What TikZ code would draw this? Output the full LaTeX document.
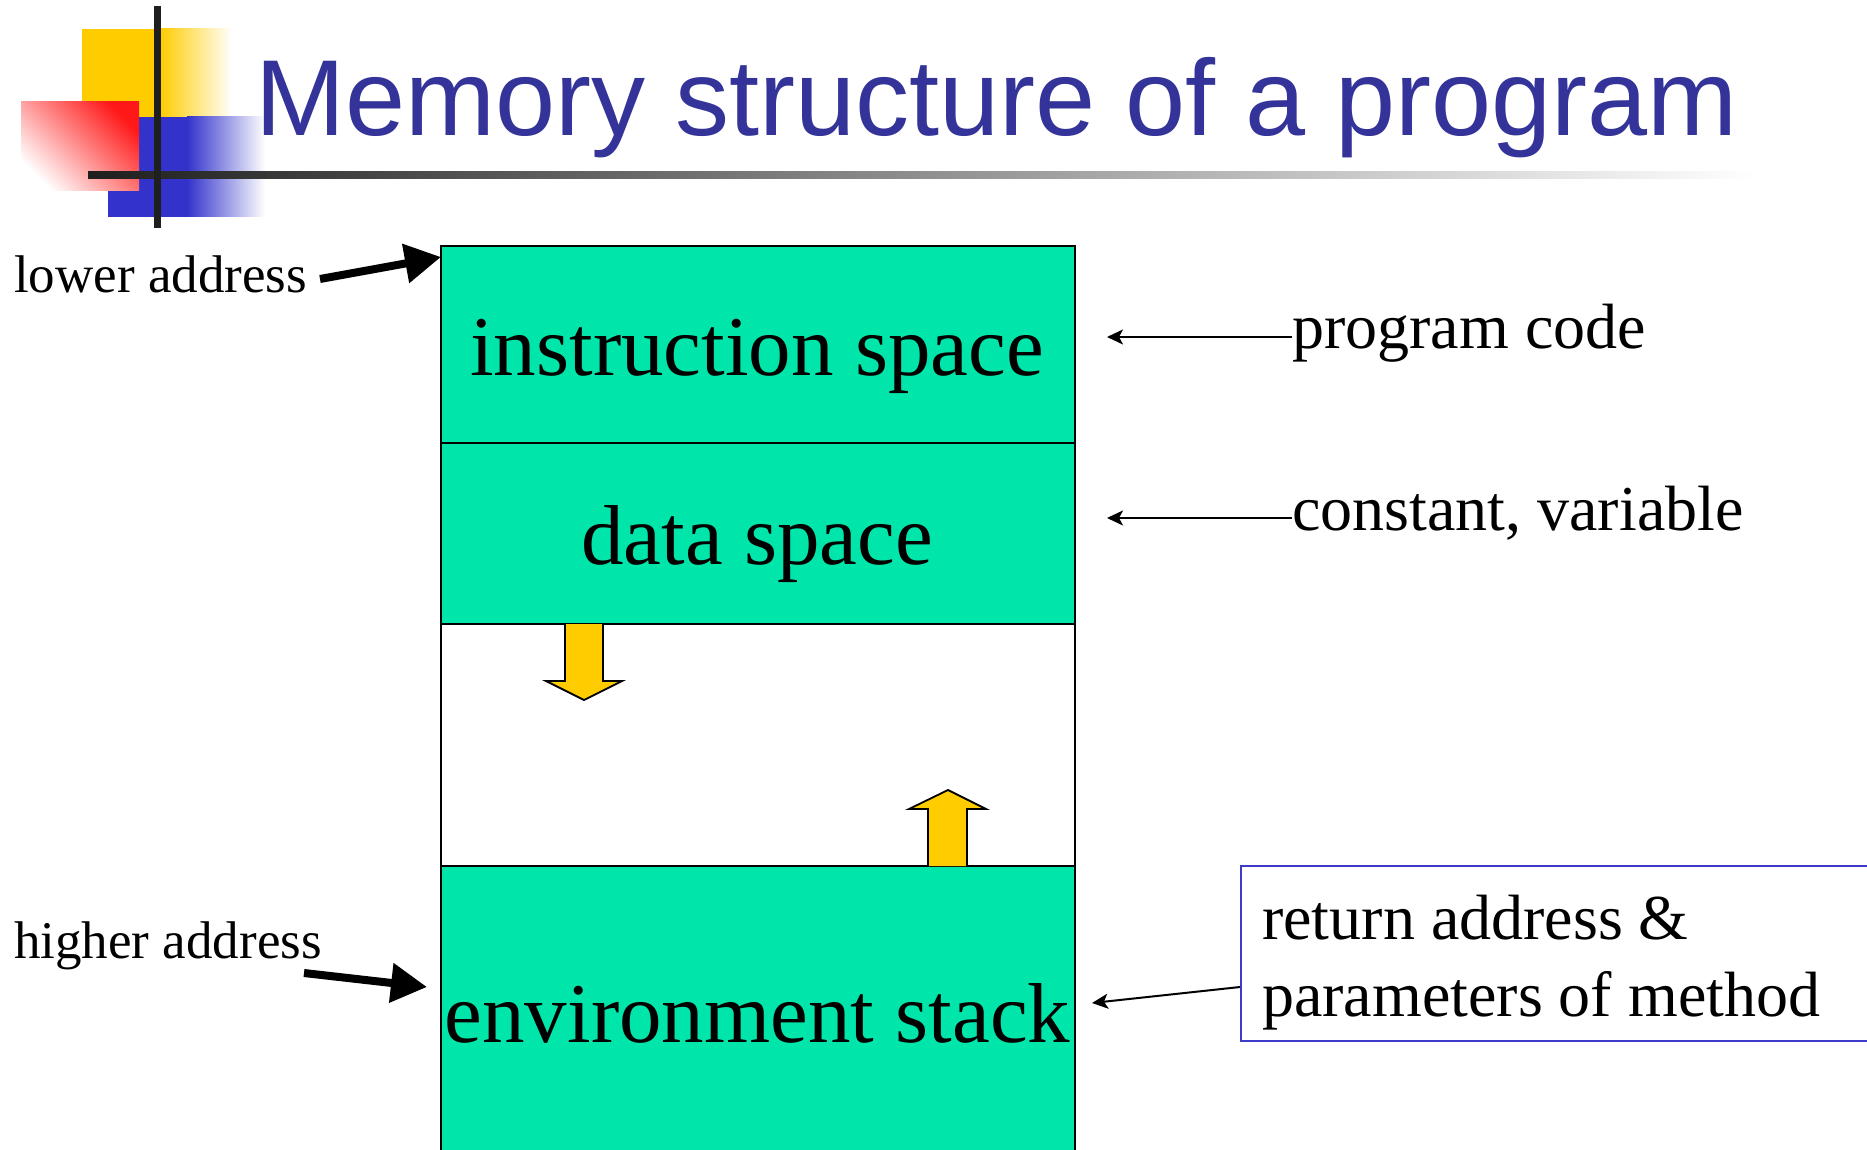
\documentclass[tikz,border=0pt]{standalone}
\usepackage{fontspec}
\setmainfont{Liberation Serif}
\newfontfamily\titlefont{Liberation Sans}
\usetikzlibrary{arrows.meta}
\definecolor{boxgreen}{RGB}{0,230,170}
\definecolor{ayellow}{RGB}{255,204,0}
\definecolor{titleblue}{RGB}{51,51,153}
\definecolor{logoblue}{RGB}{51,51,204}
\definecolor{logored}{RGB}{255,24,24}
\definecolor{retblue}{RGB}{60,60,200}
\begin{document}
\begin{tikzpicture}[x=1pt,y=-1pt,
  memcell/.style={draw=black,line width=2pt,fill=boxgreen,minimum width=634pt,inner sep=0pt},
  txt/.style={inner sep=0pt,anchor=base west},
  boxtxt/.style={inner sep=0pt,anchor=base,font=\fontsize{85}{95}\selectfont},
  smalltxt/.style={txt,font=\fontsize{53}{60}\selectfont},
  midtxt/.style={txt,font=\fontsize{64}{72}\selectfont},
  bigarrow/.style={line width=8pt,-{Triangle[length=36pt,width=38pt]}},
  thinarrow/.style={line width=2pt,-{Stealth[length=16pt,width=15pt,inset=4pt]}},
  yarrow/.style={draw=black,line width=1.8pt,fill=ayellow,line join=miter}]
\useasboundingbox (0,0) rectangle (1867,1150);
% logo
\fill[ayellow] (82,29) rectangle (160,117);
\shade[left color=ayellow,right color=white] (160,29) rectangle (232,117);
\fill[logoblue] (108,117) rectangle (187,217);
\shade[left color=logoblue,right color=white] (187,117) rectangle (265,217);
\shade[top color=logored,bottom color=white,shading angle=-45] (21,102) rectangle (139,191);
\shade[left color=black!88,right color=white] (88,172) rectangle (1755,179);
\fill[black!88] (154,6) rectangle (161,228);
% title
\node[txt,font=\titlefont\fontsize{108}{120}\selectfont,text=titleblue] (title) at (255,136) {Memory structure of a program};
% memory blocks
\node[memcell,minimum height=197pt] (instr) at (758,344.5) {};
\node[memcell,minimum height=181pt] (data) at (758,533.5) {};
\node[memcell,fill=white,minimum height=242pt] (free) at (758,745) {};
\node[memcell,minimum height=300pt] (env) at (758,1016) {};
\node[boxtxt] (instrtxt) at (757,375) {instruction space};
\node[boxtxt] (datatxt) at (757,564) {data space};
\node[boxtxt] (envtxt) at (757.5,1042) {environment stack};
% growth arrows
\draw[yarrow] (565,624) -- (565,681) -- (546,681) -- (584,700) -- (622,681) -- (603,681) -- (603,624);
\draw[yarrow] (928,866) -- (928,809) -- (909,809) -- (948,790) -- (986,809) -- (967,809) -- (967,866);
% left labels
\node[smalltxt] (lower) at (14,292) {lower address};
\node[smalltxt] (higher) at (14,958) {higher address};
\coordinate (lowtail) at (320,279);
\coordinate (lowtip) at (441,257);
\coordinate (hightail) at (304,973);
\coordinate (hightip) at (427,987);
\draw[bigarrow] (lowtail) -- (lowtip);
\draw[bigarrow] (hightail) -- (hightip);
% right labels
\node[midtxt] (prog) at (1292,348) {program code};
\node[midtxt] (const) at (1292,530) {constant, variable};
\coordinate (progtip) at (1107,337);
\coordinate (consttip) at (1107,518);
\draw[thinarrow] (prog.west |- progtip) -- (progtip);
\draw[thinarrow] (const.west |- consttip) -- (consttip);
\node[draw=retblue,line width=2pt,minimum width=680pt,minimum height=175pt,inner sep=0pt] (ret) at (1581,953.5) {};
\node[midtxt] (ret1) at (1262,939) {return address \&};
\node[midtxt] (ret2) at (1262,1016) {parameters of method};
\coordinate (retstart) at (1241,987);
\coordinate (rettip) at (1092,1003);
\draw[thinarrow] (ret.west |- retstart) -- (rettip);
\end{tikzpicture}
\end{document}
